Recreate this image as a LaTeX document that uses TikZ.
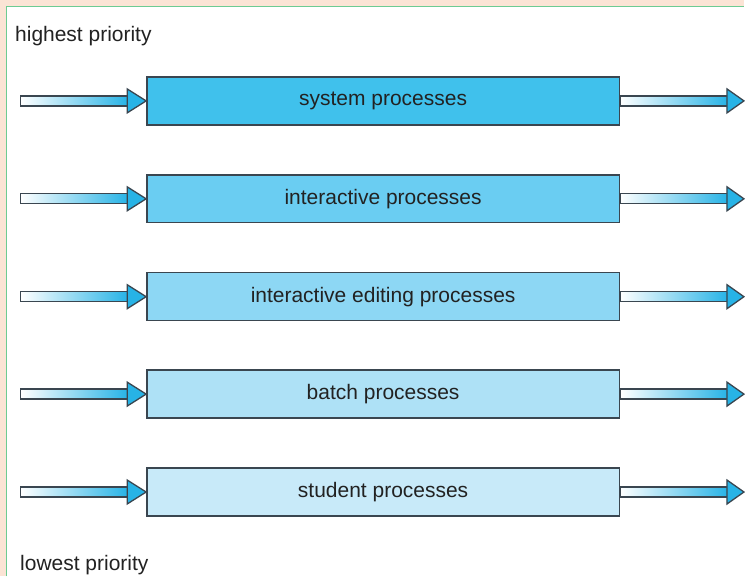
\documentclass[tikz,border=0pt]{standalone}
\usepackage{fontspec}
\setmainfont{Liberation Sans}
\usetikzlibrary{calc}
\definecolor{peach}{HTML}{FBE4D5}
\definecolor{frameg}{HTML}{6DCB92}
\definecolor{edgec}{HTML}{3A4650}
\definecolor{arrowc}{HTML}{27B3E6}
\definecolor{qa}{HTML}{40C1EC}
\definecolor{qb}{HTML}{6ACDF2}
\definecolor{qc}{HTML}{8DD7F4}
\definecolor{qd}{HTML}{AEE1F6}
\definecolor{qe}{HTML}{C8EAF9}
\definecolor{txt}{HTML}{222222}
\tikzset{
  queue/.style={draw=edgec, line width=1.4pt, minimum width=473pt, minimum height=48pt,
    inner sep=0pt, text=txt, font=\fontsize{21}{25}\selectfont},
  shaft/.style={draw=edgec, line width=1.3pt, left color=white, right color=arrowc},
  head/.style={draw=edgec, line width=1.3pt, fill=arrowc, line join=miter},
  label/.style={anchor=base west, inner sep=0pt, text=txt, font=\fontsize{21}{25}\selectfont}
}
\newcommand{\qarrows}[1]{%
  \path[shaft] ($(#1.west)+(-126,-5)$) rectangle ($(#1.west)+(-18,5)$);
  \path[head] ($(#1.west)+(-19,-12)$) -- (#1.west) -- ($(#1.west)+(-19,12)$) -- cycle;
  \path[shaft] ($(#1.east)+(0,-5)$) rectangle ($(#1.east)+(108,5)$);
  \path[head] ($(#1.east)+(107,-12)$) -- ($(#1.east)+(124,0)$) -- ($(#1.east)+(107,12)$) -- cycle;
}
\begin{document}
\begin{tikzpicture}[x=1pt,y=-1pt]
\fill[peach] (0,0) rectangle (745,577);
\fill[white] (6.5,6.5) rectangle (745,577);
\draw[frameg, line width=1.5pt] (6.5,577) -- (6.5,6.5) -- (745,6.5);
\useasboundingbox (0,0) rectangle (745,577);

\node[label] (hi) at (15,42) {highest priority};
\node[label] (lo) at (20,571) {lowest priority};

\node[queue, fill=qa] (s1) at (383.5,101) {system processes};
\node[queue, fill=qb] (s2) at (383.5,199) {interactive processes};
\node[queue, fill=qc] (s3) at (383.5,297) {interactive editing processes};
\node[queue, fill=qd] (s4) at (383.5,394.5) {batch processes};
\node[queue, fill=qe] (s5) at (383.5,492.5) {student processes};

\qarrows{s1}
\qarrows{s2}
\qarrows{s3}
\qarrows{s4}
\qarrows{s5}
\end{tikzpicture}
\end{document}
